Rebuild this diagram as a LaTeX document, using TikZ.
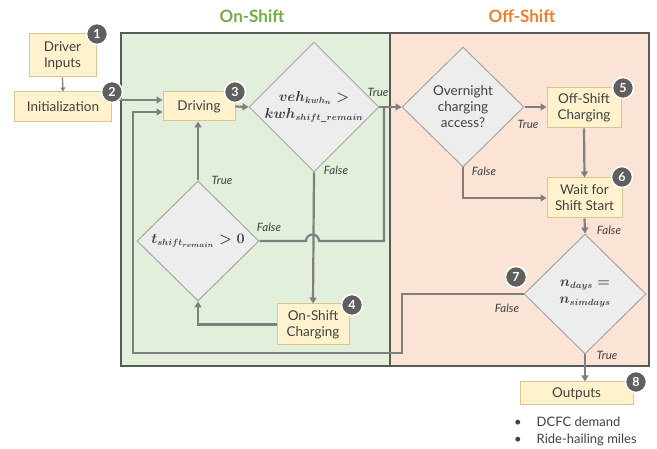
\documentclass[tikz,border=0pt]{standalone}
\usepackage{fontspec}
\setmainfont{Lato}
\usetikzlibrary{shapes.geometric,arrows.meta,calc}
\definecolor{boxfill}{HTML}{FFF2CC}
\definecolor{boxline}{HTML}{DCC48E}
\definecolor{diafill}{HTML}{EDEDED}
\definecolor{dialine}{HTML}{A5A5A5}
\definecolor{greenfill}{HTML}{E2EFDA}
\definecolor{peachfill}{HTML}{FBE4D6}
\definecolor{regline}{HTML}{595959}
\definecolor{connc}{HTML}{7F7F7F}
\definecolor{txt}{HTML}{404040}
\definecolor{badgec}{HTML}{5F5F5F}
\definecolor{ongreen}{HTML}{70AD47}
\definecolor{offorange}{HTML}{ED7D31}
\begin{document}
\begin{tikzpicture}[x=1pt,y=-1pt,
  box/.style={draw=boxline, fill=boxfill, line width=1pt, align=center, text=txt,
     font=\fontsize{13.5}{16}\selectfont, inner sep=0pt},
  dia/.style={diamond, draw=dialine, fill=diafill, line width=1pt, align=center, text=txt,
     minimum width=122pt, minimum height=120pt, inner sep=0pt, aspect=1,
     font=\fontsize{13.5}{16}\selectfont},
  mathdia/.style={dia, font=\fontsize{13.5}{16}\selectfont\boldmath},
  badge/.style={circle, fill=badgec, draw=white, line width=1.5pt, minimum size=21pt, inner sep=0pt,
     text=white, font=\fontsize{12.5}{12.5}\selectfont\bfseries},
  lbl/.style={text=txt, font=\fontsize{11.5}{13}\selectfont\itshape, inner sep=0pt},
  conn/.style={draw=connc, line width=2.2pt, -{Triangle[length=6pt,width=7pt]}},
  plain/.style={draw=connc, line width=2.2pt},
  title/.style={font=\fontsize{17}{19}\selectfont\bfseries, inner sep=0pt}
]
\useasboundingbox (0,0) rectangle (657,449);
% regions
\draw[regline, line width=1.2pt, fill=greenfill] (121,33) rectangle (390,366);
\draw[regline, line width=1.2pt, fill=peachfill] (390,33) rectangle (649,366);
\node[title, text=ongreen] (ton) at (252,16) {On-Shift};
\node[title, text=offorange] (toff) at (522,16) {Off-Shift};

% nodes
\node[box, minimum width=67, minimum height=43] (inputs) at (62.5,55.5) {Driver\\Inputs};
\node[box, minimum width=97, minimum height=30] (init) at (63,107) {Initialization};
\node[box, minimum width=72, minimum height=29] (drive) at (199,106.5) {Driving};
\node[mathdia] (d1) at (314,107) {$veh_{kwh_n}>$\\[1pt]$kwh_{shift\_remain}$};
\node[dia] (d2) at (463,107) {Overnight\\charging\\access?};
\node[box, minimum width=74, minimum height=40] (offc) at (584,108) {Off-Shift\\Charging};
\node[box, minimum width=75, minimum height=40] (wait) at (584.5,198) {Wait for\\Shift Start};
\node[mathdia] (d3) at (585,294) {$n_{days}=$\\[1pt]$n_{simdays}$};
\node[mathdia] (d4) at (198,241) {$t_{shift_{remain}}>0$};
\node[box, minimum width=72, minimum height=41] (onc) at (313,324.5) {On-Shift\\Charging};
\node[box, minimum width=113, minimum height=23] (out) at (576.5,393.5) {Outputs};
\node[anchor=north west, align=left, text=txt, font=\fontsize{13}{16.5}\selectfont, inner sep=0pt] (bul) at (514,417)
  {\textbullet\hspace{15pt}DCFC demand\\\textbullet\hspace{15pt}Ride-hailing miles};

% connectors
\draw[draw=connc, line width=1.2pt, -{Triangle[length=4pt,width=4.5pt]}] (inputs.south) -- (init.north);
\draw[conn] ([yshift=7pt]init.east) -- ([yshift=7pt]init.east -| drive.west);
\draw[conn] (drive.east) -- (d1.west);
\draw[conn] (d1.east) -- (d2.west);
\draw[conn] (d1.south) -- (onc.north);
\draw[conn] (d2.east) -- (d2.east -| offc.west);
\draw[conn] (d2.south) |- (wait.west);
\draw[conn] (offc.south) -- (wait.north);
\draw[conn] (wait.south) -- (d3.north);
\draw[conn] (d3.south) -- (d3.south |- out.north);
\draw[conn] (d4.north) -- (d4.north |- drive.south);
\draw[conn] (onc.west) -| (d4.south);
\draw[plain] (d4.east) -- (306,241) arc (180:360:6.5) -- (384,241) -- (384,107);
\draw[conn] (d3.west) -- (402,294) -- (402,353) -- (133,353) |- ([yshift=-5.5pt]drive.west);

% labels
\node[lbl] (l1) at (378,92) {True};
\node[lbl] (l2) at (336,170) {False};
\node[lbl] (l3) at (528,124) {True};
\node[lbl] (l4) at (484,171) {False};
\node[lbl] (l5) at (609,230) {False};
\node[lbl] (l6) at (507,308) {False};
\node[lbl] (l7) at (607,355) {True};
\node[lbl] (l8) at (222,180) {True};
\node[lbl] (l9) at (269,227) {False};

% badges
\node[badge] (b1) at (97,34) {1};
\node[badge] (b2) at (112,92) {2};
\node[badge] (b3) at (235,92) {3};
\node[badge] (b4) at (352,305) {4};
\node[badge] (b5) at (623,88) {5};
\node[badge] (b6) at (622,177) {6};
\node[badge] (b7) at (516,277) {7};
\node[badge] (b8) at (636,382) {8};
\end{tikzpicture}
\end{document}
